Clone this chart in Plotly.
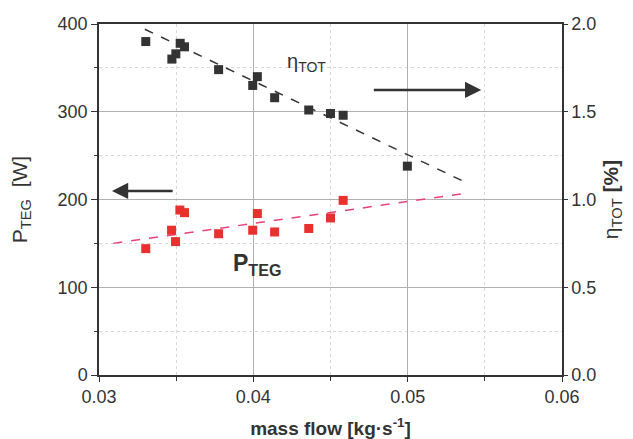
import plotly.graph_objects as go

# Data
mass_flow = [0.03303, 0.03472, 0.03498, 0.03526, 0.03554, 0.03775, 0.03996,
             0.04026, 0.04138, 0.04359, 0.04500, 0.04582, 0.04998]
eta_tot = [1.90, 1.80, 1.83, 1.89, 1.87, 1.74, 1.65, 1.70, 1.58, 1.51, 1.49, 1.48, 1.19]

mass_flow_p = [0.03303, 0.03470, 0.03496, 0.03524, 0.03554, 0.03775, 0.03996,
               0.04026, 0.04138, 0.04359, 0.04500, 0.04582]
p_teg = [144, 165, 152, 188, 185, 161, 165, 184, 163, 167, 179, 199]

eta_fit_x = [0.03297, 0.05370]
eta_fit_y = [1.97, 1.10]
p_fit_x = [0.03093, 0.05371]
p_fit_y = [150, 207]

font_family = "Liberation Sans, Arial, sans-serif"
dark = "#333333"
red = "#e8302e"
pink = "#e8407a"

fig = go.Figure()
fig.add_trace(go.Scatter(x=p_fit_x, y=p_fit_y, mode="lines",
                         line=dict(color=pink, width=1.5, dash="dash"), yaxis="y"))
fig.add_trace(go.Scatter(x=mass_flow_p, y=p_teg, mode="markers",
                         marker=dict(symbol="square", size=9, color=red), yaxis="y"))
fig.add_trace(go.Scatter(x=eta_fit_x, y=eta_fit_y, mode="lines",
                         line=dict(color=dark, width=1.5, dash="dash"), yaxis="y2"))
fig.add_trace(go.Scatter(x=mass_flow, y=eta_tot, mode="markers",
                         marker=dict(symbol="square", size=9, color=dark), yaxis="y2"))

fig.update_layout(
    width=625, height=431,
    margin=dict(l=91, r=71, t=16, b=64),
    paper_bgcolor="white", plot_bgcolor="white",
    showlegend=False,
    font=dict(family=font_family, color=dark, size=18),
    xaxis=dict(range=[0.03, 0.06], dtick=0.01, tickformat=".2f", automargin=False,
               showline=True, linecolor=dark, linewidth=1.5, mirror=True,
               ticks="outside", ticklen=5, tickcolor=dark,
               showgrid=True, gridcolor="#b0b0b0", gridwidth=1,
               minor=dict(dtick=0.005, showgrid=True, gridcolor="#d8d8d8",
                          griddash="dot", ticks="outside", ticklen=4, tickcolor=dark),
               zeroline=False,
               title=dict(text="<b>mass flow [kg·s<sup>-1</sup>]</b>", font=dict(size=19), standoff=16)),
    yaxis=dict(range=[0, 400], dtick=100, automargin=False,
               showline=True, linecolor=dark, linewidth=1.5,
               ticks="outside", ticklen=6, tickcolor=dark,
               showgrid=True, gridcolor="#b0b0b0", gridwidth=1,
               minor=dict(dtick=50, showgrid=True, gridcolor="#d8d8d8",
                          griddash="dot", ticks="outside", ticklen=3, tickcolor=dark),
               zeroline=False,
               title=dict(text="P<sub>TEG</sub>  [W]", font=dict(size=21), standoff=26)),
    yaxis2=dict(range=[0, 2], dtick=0.5, tickformat=".1f", overlaying="y", side="right",
                automargin=False,
                showline=True, linecolor=dark, linewidth=1.5,
                ticks="outside", ticklen=4, tickcolor=dark,
                showgrid=False, zeroline=False,
                title=dict(text="η<sub>TOT</sub> <b>[%]</b>", font=dict(size=21), standoff=8)),
    annotations=[
        dict(x=0.03084, y=209.7, ax=0.03487, ay=209.7, xref="x", yref="y",
             axref="x", ayref="y", showarrow=True, arrowhead=2, arrowsize=1.3,
             arrowwidth=2.5, arrowcolor=dark, text=""),
        dict(x=0.05477, y=324.8, ax=0.04771, ay=324.8, xref="x", yref="y",
             axref="x", ayref="y", showarrow=True, arrowhead=2, arrowsize=1.3,
             arrowwidth=2.5, arrowcolor=dark, text=""),
        dict(x=0.04344, y=356.7, xref="x", yref="y", showarrow=False,
             text="η<sub>TOT</sub>", font=dict(size=20, color=dark)),
        dict(x=0.04026, y=125.4, xref="x", yref="y", showarrow=False,
             text="<b>P<sub>TEG</sub></b>", font=dict(size=23, color=dark)),
    ],
)

fig.write_html("out.html")
